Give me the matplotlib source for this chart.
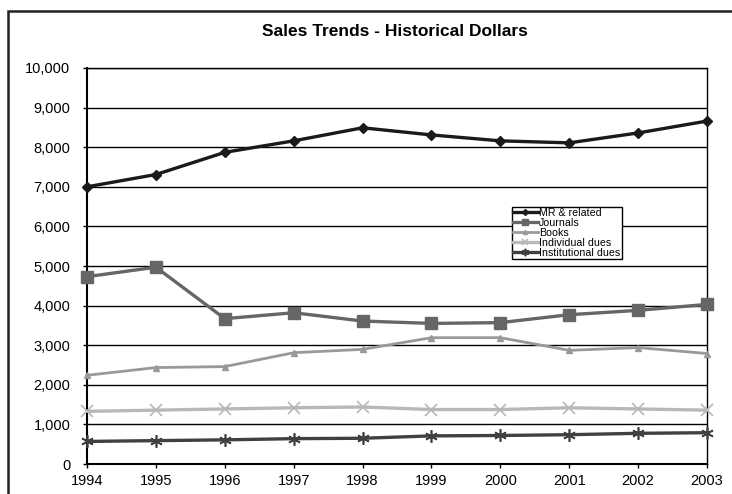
import numpy as np
import matplotlib
matplotlib.use("Agg")
import matplotlib.pyplot as plt
from matplotlib.patches import Rectangle
from matplotlib.ticker import FuncFormatter

plt.rcParams['font.family'] = ['Liberation Sans', 'DejaVu Sans']

years = [1994, 1995, 1996, 1997, 1998, 1999, 2000, 2001, 2002, 2003]
mr_related = [7000, 7310, 7870, 8160, 8490, 8310, 8160, 8110, 8360, 8660]
journals = [4730, 4970, 3670, 3820, 3610, 3550, 3570, 3770, 3880, 4030]
books = [2240, 2435, 2460, 2810, 2895, 3190, 3190, 2870, 2940, 2790]
individual_dues = [1330, 1360, 1390, 1420, 1440, 1375, 1375, 1420, 1390, 1360]
institutional_dues = [570, 590, 610, 640, 650, 710, 720, 740, 775, 790]

W, H = 732, 494
fig = plt.figure(figsize=(W / 100, H / 100), dpi=100)
ax = fig.add_axes([87 / W, 1 - 464 / H, (707 - 87) / W, (464 - 68) / H])

# outer chart border (clipped at right and bottom like the original)
fig.patches.append(Rectangle((8 / W, -0.1), 1.2, (1 - 11 / H) + 0.1,
                             transform=fig.transFigure, fill=False,
                             edgecolor='#222222', linewidth=1.8))

series = [
    ("MR & related", mr_related, '#1a1a1a', 'D', 5, 2.4),
    ("Journals", journals, '#666666', 's', 8, 2.4),
    ("Books", books, '#999999', '^', 5, 2.0),
    ("Individual dues", individual_dues, '#b8b8b8', 'x', 8, 2.4),
    ("Institutional dues", institutional_dues, '#404040', (6, 2, 0), 9, 2.4),
]

for label, vals, col, mk, ms, lw in series:
    ax.plot(years, vals, color=col, marker=mk, markersize=ms, linewidth=lw,
            markeredgecolor=col, markeredgewidth=1.2 if mk in ('x', (6, 2, 0)) else 1,
            label=label, clip_on=False, zorder=3)

ax.set_xlim(1994, 2003)
ax.set_ylim(0, 10000)
ax.set_xticks(years)
ax.set_yticks(np.arange(0, 10001, 1000))
ax.yaxis.set_major_formatter(FuncFormatter(lambda v, p: f"{int(v):,}"))
ax.grid(axis='y', color='black', linewidth=1)
ax.set_axisbelow(True)
for s in ax.spines.values():
    s.set_color('black')
    s.set_linewidth(1)
ax.spines['left'].set_linewidth(1.5)
ax.spines['bottom'].set_linewidth(1.5)
ax.tick_params(axis='both', direction='out', length=3, width=1, colors='black',
               labelsize=10.5)
ax.tick_params(axis='y', pad=9)
ax.tick_params(axis='x', pad=4)

fig.text(395 / W, 1 - 32 / H, "Sales Trends - Historical Dollars",
         ha='center', va='center', fontsize=12.5, fontweight='bold')

leg = ax.legend(loc='upper left', bbox_to_anchor=(512 / W, 1 - 207 / H),
                bbox_transform=fig.transFigure, fontsize=7.7, frameon=True,
                fancybox=False, borderpad=0.1, labelspacing=0.0,
                handlelength=2.3, handletextpad=0.15, borderaxespad=0,
                markerscale=0.6)
leg.get_frame().set_edgecolor('black')
leg.get_frame().set_linewidth(1)
leg.get_frame().set_alpha(1)

fig.savefig("out.png", dpi=100)
